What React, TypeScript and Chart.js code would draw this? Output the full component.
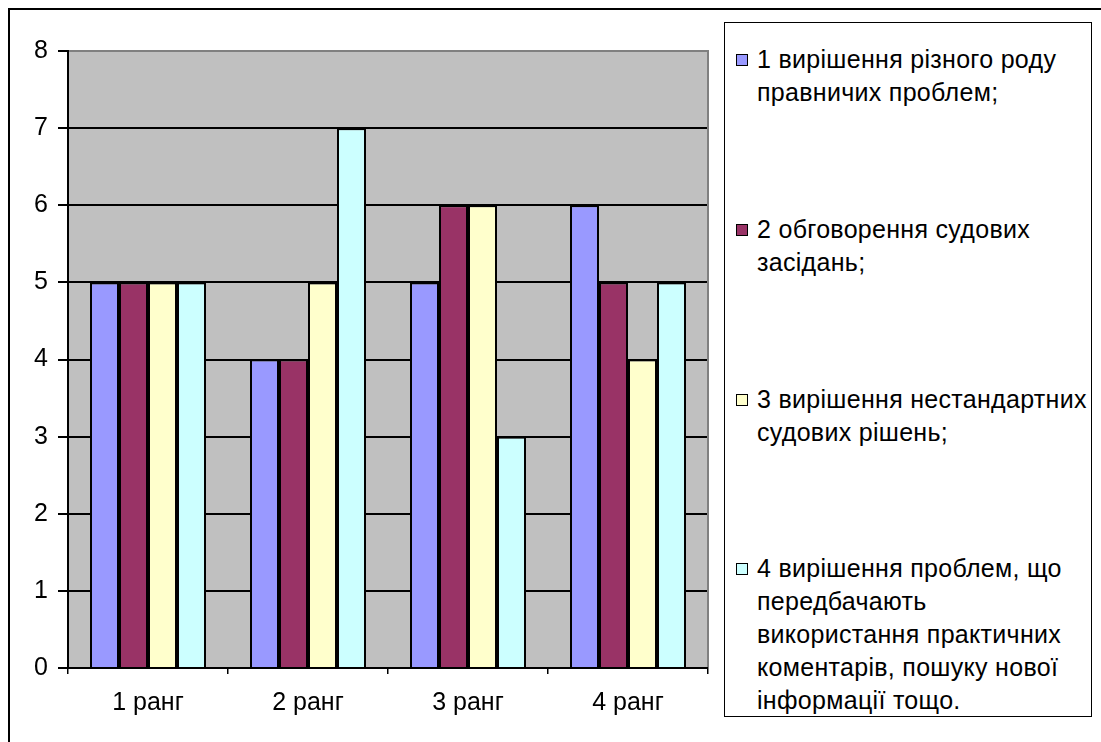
import React, { useEffect, useRef } from "react";
import { Chart, registerables } from "chart.js";

Chart.register(...registerables);

const categories = ["1 ранг", "2 ранг", "3 ранг", "4 ранг"];
const series1 = [5, 4, 5, 6];
const series2 = [5, 4, 6, 5];
const series3 = [5, 5, 6, 4];
const series4 = [5, 7, 3, 5];
const seriesColors = ["#9999FF", "#993366", "#FFFFCC", "#CCFFFF"];
const seriesLabels = [
  ["1 вирішення різного роду", "правничих проблем;"],
  ["2 обговорення судових", "засідань;"],
  ["3 вирішення нестандартних", "судових рішень;"],
  ["4 вирішення проблем, що", "передбачають", "використання практичних", "коментарів, пошуку нової", "інформації тощо."],
];
const yMin = 0;
const yMax = 8;
const yStep = 1;

const FONT = "'Liberation Sans', Arial, sans-serif";

const plotBg = {
  id: "plotBg",
  beforeDraw(chart: any) {
    const { ctx, chartArea } = chart;
    ctx.save();
    ctx.fillStyle = "#C0C0C0";
    ctx.fillRect(chartArea.left, chartArea.top, chartArea.right - chartArea.left, chartArea.bottom - chartArea.top);
    ctx.restore();
  },
  afterDraw(chart: any) {
    const { ctx, chartArea } = chart;
    ctx.save();
    ctx.strokeStyle = "#808080";
    ctx.lineWidth = 2;
    ctx.beginPath();
    ctx.moveTo(chartArea.left + 1, chartArea.top);
    ctx.lineTo(chartArea.right, chartArea.top);
    ctx.lineTo(chartArea.right, chartArea.bottom - 1);
    ctx.stroke();
    ctx.restore();
  },
};

export default function App() {
  const ref = useRef<HTMLCanvasElement>(null);
  useEffect(() => {
    const data = [series1, series2, series3, series4];
    const chart = new Chart(ref.current!, {
      type: "bar",
      data: {
        labels: categories,
        datasets: data.map((d, i) => ({
          label: seriesLabels[i].join(" "),
          data: d,
          backgroundColor: seriesColors[i],
          borderColor: "#000",
          borderWidth: 2,
          barPercentage: 1,
          categoryPercentage: 0.725,
        })),
      },
      options: {
        animation: false,
        responsive: false,
        devicePixelRatio: 1,
        layout: { padding: { left: 0, top: 51, right: 393, bottom: 0 } },
        plugins: { legend: { display: false }, tooltip: { enabled: false } },
        scales: {
          x: {
            grid: { display: true, drawOnChartArea: false, drawTicks: true, tickLength: 6, color: "#000", lineWidth: 1.5, offset: true },
            border: { display: true, color: "#000", width: 2 },
            ticks: { color: "#000", font: { family: FONT, size: 25 }, padding: 14 },
            afterFit: (s: any) => { s.height = 74; },
          },
          y: {
            min: yMin,
            max: yMax,
            grid: { color: "#000", lineWidth: 2, tickLength: 10, drawTicks: true },
            border: { display: true, color: "#000", width: 2 },
            ticks: { stepSize: yStep, color: "#000", font: { family: FONT, size: 25 }, padding: 10 },
            afterFit: (s: any) => { s.width = 68; },
          },
        },
      },
      plugins: [plotBg],
    });
    return () => chart.destroy();
  }, []);

  const itemTops = [42, 212, 382, 551];
  return (
    <div style={{ position: "absolute", left: 0, top: 0, width: 1101, height: 742, background: "#fff", overflow: "hidden", fontFamily: FONT }}>
      <div style={{ position: "absolute", left: 8, top: 8, width: 1093, height: 734, borderTop: "2px solid #000", borderLeft: "2px solid #000", boxSizing: "border-box" }} />
      <canvas ref={ref} width={1101} height={742} style={{ position: "absolute", left: 0, top: 0, width: 1101, height: 742 }} />
      <div style={{ position: "absolute", left: 724, top: 22, width: 368, height: 695, border: "1.5px solid #000", boxSizing: "border-box", background: "#fff" }}>
        {seriesLabels.map((lines, i) => (
          <div key={i} style={{ position: "absolute", left: 0, top: itemTops[i] - 22, width: 360 }}>
            <div style={{ position: "absolute", left: 11, top: 11, width: 10, height: 10, background: seriesColors[i], border: "1px solid #000" }} />
            <div style={{ position: "absolute", left: 32, top: 0, fontSize: 25, lineHeight: "33px", letterSpacing: "0.3px", color: "#000", whiteSpace: "nowrap" }}>
              {lines.map((l, j) => (<div key={j}>{l}</div>))}
            </div>
          </div>
        ))}
      </div>
    </div>
  );
}
